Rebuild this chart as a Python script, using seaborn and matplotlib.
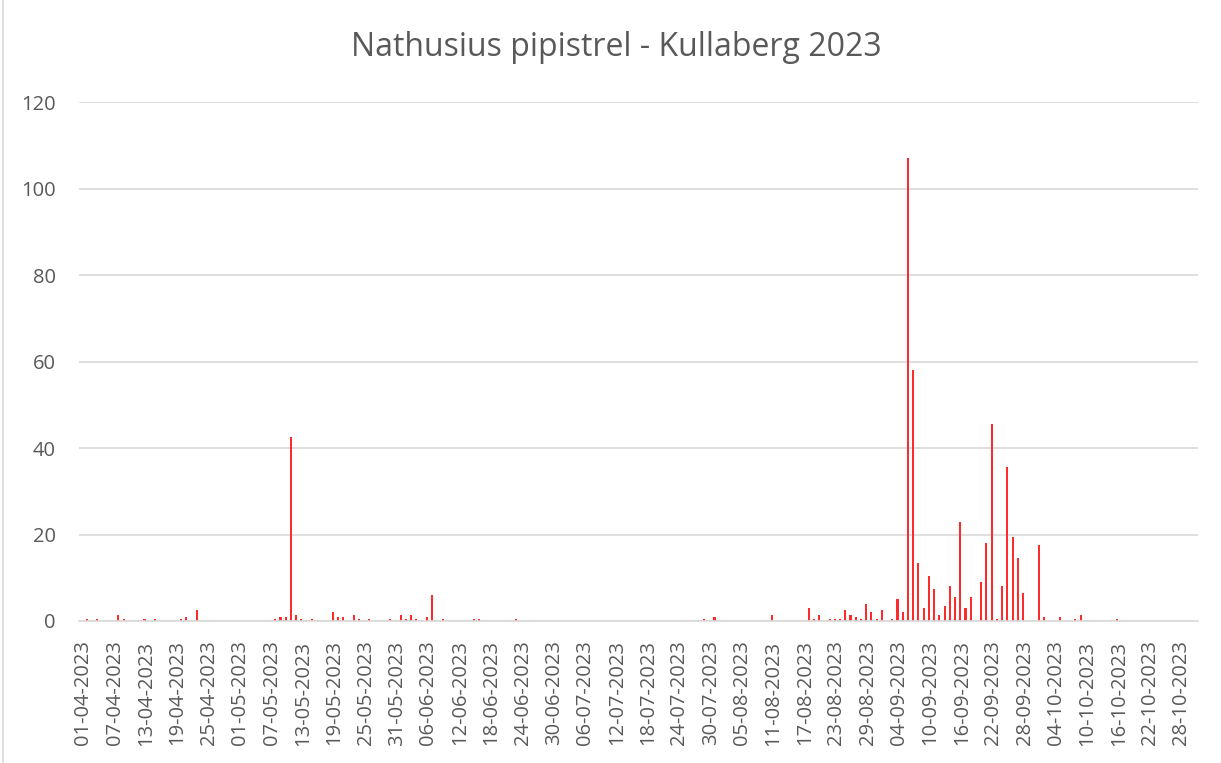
import pandas as pd
import seaborn as sns
import matplotlib
matplotlib.use('Agg')
import matplotlib.pyplot as plt
from matplotlib.lines import Line2D

# nights with registrations (all other nights are 0)
dates = [
    '01-04', '03-04', '07-04', '08-04', '12-04', '14-04', '19-04', '20-04', '22-04',
    '07-05', '08-05', '09-05', '10-05', '11-05', '12-05', '14-05', '18-05', '19-05',
    '20-05', '22-05', '23-05', '25-05', '29-05', '31-05',
    '01-06', '02-06', '03-06', '05-06', '06-06', '08-06', '14-06', '15-06', '22-06',
    '28-07', '30-07',
    '10-08', '17-08', '18-08', '19-08', '21-08', '22-08', '23-08', '24-08', '25-08',
    '26-08', '27-08', '28-08', '29-08', '30-08', '31-08',
    '02-09', '03-09', '04-09', '05-09', '06-09', '07-09', '08-09', '09-09', '10-09',
    '11-09', '12-09', '13-09', '14-09', '15-09', '16-09', '17-09', '19-09', '20-09',
    '21-09', '22-09', '23-09', '24-09', '25-09', '26-09', '27-09', '30-09',
    '01-10', '04-10', '07-10', '08-10', '15-10',
]
counts = [
    0.5, 0.5, 1.5, 0.5, 0.5, 0.5, 0.5, 1, 2.5,
    0.5, 1, 1, 42.5, 1.5, 0.5, 0.5, 2, 1,
    1, 1.5, 0.5, 0.5, 0.5, 1.5,
    0.5, 1.5, 0.5, 1, 6, 0.5, 0.5, 0.5, 0.5,
    0.5, 1,
    1.5, 3, 0.5, 1.5, 0.5, 0.5, 0.5, 2.5, 1.5,
    1, 0.5, 4, 2, 0.5, 2.5,
    0.5, 5, 2, 107, 58, 13.5, 3, 10.5, 7.5,
    1.5, 3.5, 8, 5.5, 23, 3, 5.5, 9, 18,
    45.5, 0.5, 8, 35.5, 19.5, 14.5, 6.5, 17.5,
    1, 1, 0.5, 1.5, 0.5,
]
start_date = '2023-04-01'
end_date = '2023-10-30'

days = pd.date_range(start_date, end_date, freq='D')
obs = pd.Series(counts, index=pd.to_datetime([d + '-2023' for d in dates], format='%d-%m-%Y'))
df = pd.DataFrame({'dag': days.strftime('%d-%m-%Y')})
df['antal'] = obs.reindex(days, fill_value=0).values

grey = '#595959'
sns.set_style('white')
plt.rcParams['font.family'] = ['Open Sans', 'DejaVu Sans']

fig = plt.figure(figsize=(12.21, 7.63), dpi=100)
ax = fig.add_axes([79.3 / 1221, 1 - 621 / 763, (1197.7 - 79.3) / 1221, (621 - 102) / 763])

sns.barplot(data=df, x='dag', y='antal', order=df['dag'], color='#ff2a2a',
            width=0.4, saturation=1, linewidth=0, edgecolor='none', ax=ax)

ax.set_ylim(0, 120)
ax.set_yticks(range(0, 121, 20))
ax.set_xlim(-1.47, 212.4)
tick_idx = list(range(0, len(df), 6))
ax.set_xticks([i - 0.7 for i in tick_idx])
ax.set_xticklabels(df['dag'].iloc[tick_idx], rotation=90)
ax.tick_params(axis='x', length=0, pad=14, labelsize=14.5, labelcolor=grey)
ax.tick_params(axis='y', length=0, pad=17, labelsize=14.5, labelcolor=grey)
ax.set_xlabel('')
ax.set_ylabel('')

ax.grid(axis='y', color='#d9d9d9', linewidth=1.2)
ax.set_axisbelow(True)
for s in ['top', 'right', 'left']:
    ax.spines[s].set_visible(False)
ax.spines['bottom'].set_color('#d9d9d9')
ax.spines['bottom'].set_linewidth(1.2)

fig.text(0.505, 1 - 48 / 763, 'Nathusius pipistrel - Kullaberg 2023',
         ha='center', va='center', fontsize=23, color=grey)

# chart area border on the left
fig.add_artist(Line2D([3 / 1221, 3 / 1221], [0, 1], color='#d9d9d9', linewidth=1.2))

fig.savefig('out.png', dpi=100)
